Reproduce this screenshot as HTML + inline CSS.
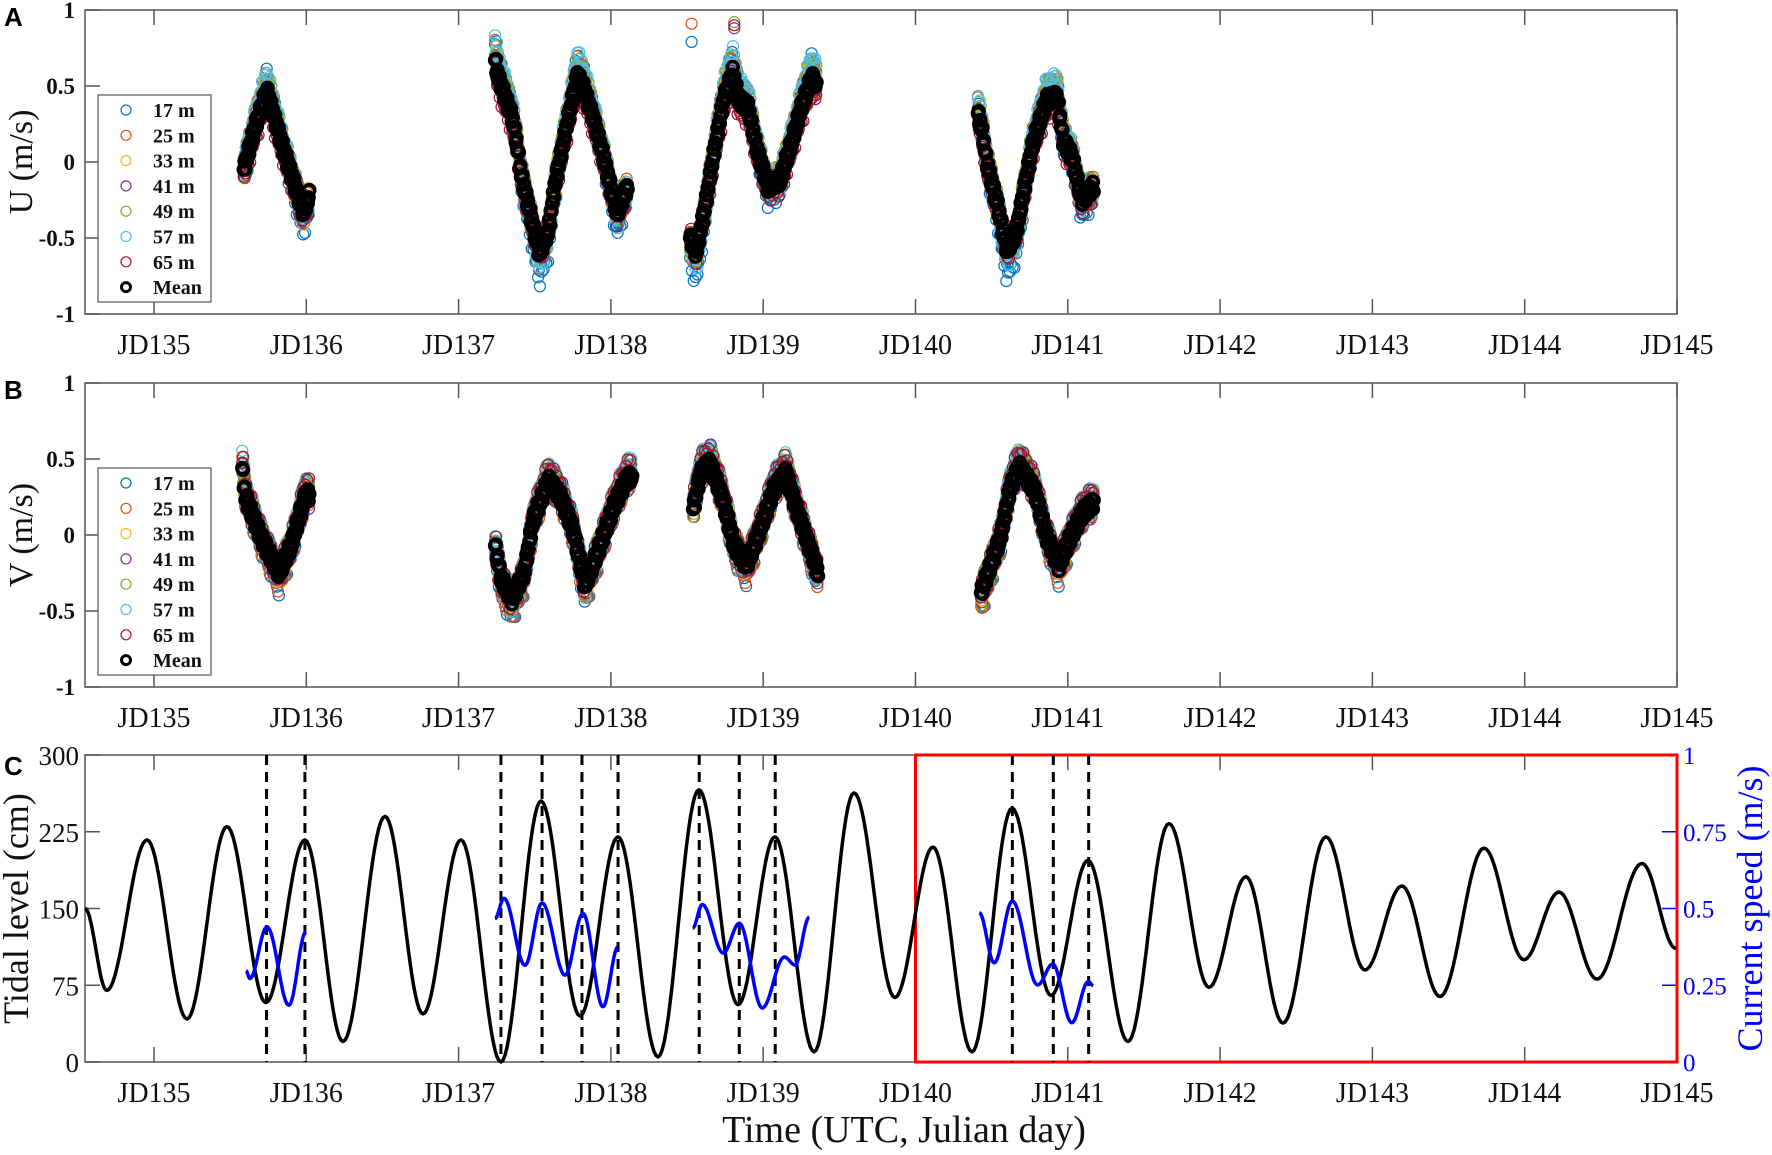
<!DOCTYPE html>
<html><head><meta charset="utf-8"><style>
html,body{margin:0;padding:0;background:#fff}
svg{display:block}
text{font-family:"Liberation Serif",serif}
</style></head><body>
<svg id="fig" width="1772" height="1155" viewBox="0 0 1772 1155" xmlns="http://www.w3.org/2000/svg">
<g id="layer"></g>
</svg>
<script>
// ---- data ----
const xTickDays = [135,136,137,138,139,140,141,142,143,144,145];
const xTickLabels = ["JD135","JD136","JD137","JD138","JD139","JD140","JD141","JD142","JD143","JD144","JD145"];
const uvTicks = [1,0.5,0,-0.5,-1];
const uvTickLabels = ["1","0.5","0","-0.5","-1"];
const tideTicks = [0,75,150,225,300];
const speedTicks = [0,0.25,0.5,0.75,1];
const speedTickLabels = ["0","0.25","0.5","0.75","1"];
const depthNames = ["17 m","25 m","33 m","41 m","49 m","57 m","65 m"];
const depthColors = ["#0072BD","#D95319","#EDB120","#7E2F8E","#77AC30","#4DBEEE","#A2142F"];
const depthGainU = [0.2,0.08,0.04,0.0,0.07,0.14,-0.05];
const depthBiasU = [-0.03,0.02,0.01,0.0,0.03,0.02,-0.03];
const depthGainV = [0.15,0.1,0.04,0.0,0.06,0.1,0.08];
const depthBiasV = [-0.03,-0.03,0.01,0.0,0.02,0.02,0.02];
// fixed scatter spread pattern (m/s) cycled over samples
const spreadPattern = [0.0,0.06,-0.05,0.03,-0.08,0.05,-0.02,0.08,-0.04];
const meanSpread = [0.0,0.035,-0.035,0.02,-0.02];
// mean U keypoints per deployment segment [day, m/s]
const uSeg1 = [[135.59,-0.05],[135.66,0.22],[135.74,0.47],[135.86,0.05],[135.98,-0.33],[136.02,-0.22]];
const uSeg2 = [[137.24,0.67],[137.26,0.56],[137.35,0.30],[137.38,0.14],[137.41,-0.08],[137.47,-0.34],[137.53,-0.6],[137.59,-0.45],[137.63,-0.16],[137.70,0.19],[137.78,0.57],[137.82,0.49],[137.88,0.30],[137.94,0.08],[138.04,-0.34],[138.11,-0.16]];
const uSeg3 = [[138.52,-0.50],[138.56,-0.6],[138.61,-0.34],[138.68,0.08],[138.74,0.41],[138.80,0.59],[138.84,0.41],[138.90,0.36],[138.96,0.08],[139.03,-0.16],[139.11,-0.12],[139.19,0.14],[139.25,0.36],[139.32,0.56],[139.35,0.49]];
const uSeg4 = [[140.41,0.32],[140.44,0.19],[140.47,-0.01],[140.54,-0.29],[140.60,-0.58],[140.66,-0.47],[140.72,-0.14],[140.77,0.12],[140.86,0.41],[140.93,0.43],[140.97,0.14],[141.03,0.03],[141.09,-0.25],[141.17,-0.16]];
const uStrayDays = [138.53,138.53,138.81,138.81,138.81];
const uStrayVals = [0.91,0.79,0.92,0.90,0.88];
const uStrayDepth = [1,0,4,6,3];
// mean V keypoints
const vSeg1 = [[135.58,0.44],[135.60,0.25],[135.70,-0.01],[135.82,-0.25],[135.90,-0.07],[136.0,0.28],[136.02,0.25]];
const vSeg2 = [[137.24,-0.07],[137.28,-0.29],[137.35,-0.42],[137.43,-0.25],[137.49,0.10],[137.59,0.36],[137.67,0.25],[137.75,0.04],[137.83,-0.33],[137.91,-0.12],[138.02,0.19],[138.10,0.36],[138.14,0.39]];
const vSeg3 = [[138.54,0.17],[138.59,0.41],[138.65,0.47],[138.73,0.25],[138.81,-0.07],[138.89,-0.2],[138.97,0.01],[139.07,0.30],[139.15,0.41],[139.20,0.23],[139.28,-0.01],[139.36,-0.25]];
const vSeg4 = [[140.43,-0.38],[140.50,-0.18],[140.56,-0.01],[140.62,0.30],[140.68,0.45],[140.78,0.30],[140.86,-0.01],[140.94,-0.2],[141.02,-0.01],[141.10,0.15],[141.17,0.21]];
// tidal level extremes
const tideDays = [134.547,134.69,134.954,135.217,135.479,135.735,135.991,136.241,136.517,136.766,137.016,137.278,137.541,137.797,138.047,138.309,138.578,138.835,139.077,139.334,139.596,139.865,140.115,140.371,140.634,140.890,141.133,141.395,141.664,141.927,142.170,142.413,142.695,142.951,143.194,143.444,143.733,143.995,144.225,144.475,144.770,144.993];
const tideVals = [150,70,217,42,230,58,217,20,240,47,217,0,255,45,220,5,266,56,220,10,263,63,210,10,248,65,197,20,233,73,181,38,220,90,172,64,209,100,166,81,194,111];
// current speed segments [day, m/s]
const spSeg1 = [[135.604,0.297],[135.630,0.272],[135.742,0.44],[135.886,0.185],[135.998,0.424]];
const spSeg2 = [[137.239,0.467],[137.298,0.533],[137.436,0.315],[137.548,0.518],[137.699,0.283],[137.817,0.484],[137.948,0.18],[138.047,0.375]];
const spSeg3 = [[138.537,0.436],[138.600,0.513],[138.738,0.355],[138.843,0.452],[138.994,0.176],[139.139,0.342],[139.209,0.316],[139.303,0.472]];
const spSeg4 = [[140.419,0.486],[140.517,0.323],[140.636,0.524],[140.802,0.251],[140.901,0.319],[141.026,0.128],[141.135,0.262],[141.167,0.249]];
const dashedDays = [135.739,135.991,137.278,137.548,137.81,138.047,138.58,138.843,139.079,140.636,140.905,141.137];
const boxStartDay = 140;
// ---- layout ----
const L = 85, R = 1677, D0 = 134.547, PXD = 152.3;
const X = d => L + (d - D0) * PXD;
const panels = {A:{top:10,bot:314}, B:{top:383,bot:687}, C:{top:755,bot:1062}};
const Yuv = (p, v) => p.top + (1 - v) / 2 * (p.bot - p.top);
const Ytide = v => panels.C.bot - v / 300 * (panels.C.bot - panels.C.top);
const Yspd = v => panels.C.bot - v * (panels.C.bot - panels.C.top);
const NS = "http://www.w3.org/2000/svg";
const layer = document.getElementById('layer');
function mk(tag, attrs, parent){ const e=document.createElementNS(NS,tag); for(const k in attrs) e.setAttribute(k,attrs[k]); (parent||layer).appendChild(e); return e; }
function txt(s, attrs, parent){ const e=mk('text',attrs,parent); e.textContent=s; return e; }
function interp(seg, t){ for(let i=0;i<seg.length-1;i++){ if(t>=seg[i][0]&&t<=seg[i+1][0]){ const f=(t-seg[i][0])/(seg[i+1][0]-seg[i][0]); return seg[i][1]+(seg[i+1][1]-seg[i][1])*f; } } return seg[seg.length-1][1]; }
function cosPath(days, vals, yf){ let d=''; for(let i=0;i<days.length-1;i++){ const a=vals[i], b=vals[i+1]; const n=20; for(let k=(i?1:0);k<=n;k++){ const f=k/n; const t=days[i]+(days[i+1]-days[i])*f; const v=a+(b-a)*(1-Math.cos(Math.PI*f))/2; d+=(d?'L':'M')+X(t).toFixed(1)+','+yf(v).toFixed(1); } } return d; }

function axisBox(name, p){
  const g = mk('g',{});
  
  
  mk('rect',{x:L,y:p.top,width:R-L,height:p.bot-p.top,fill:'none',stroke:'#555','stroke-width':1.5},g);
  xTickDays.forEach((d,i)=>{
    mk('line',{x1:X(d),x2:X(d),y1:p.bot,y2:p.bot-15,stroke:'#555','stroke-width':1.5},g);
    mk('line',{x1:X(d),x2:X(d),y1:p.top,y2:p.top+15,stroke:'#555','stroke-width':1.5},g);
    const t = txt(xTickLabels[i],{x:X(d),y:p.bot+40,'text-anchor':'middle','font-size':28,fill:'#111'},g);
    
    
  });
  return g;
}
function uvPanel(name, p, segs, gain, bias, label, letter, strays){
  const g = axisBox(name, p);
  uvTicks.forEach((v,i)=>{
    mk('line',{x1:L,x2:L+15,y1:Yuv(p,v),y2:Yuv(p,v),stroke:'#555','stroke-width':1.5},g);
    const t = txt(uvTickLabels[i],{x:L-10,y:Yuv(p,v)+8,'text-anchor':'end','font-size':23,'font-weight':'bold',fill:'#111'},g);
    
    
  });
  const sc = mk('g',{},g);
  
  
  for(let di=0; di<7; di++){
    const sg = mk('g',{fill:'none',stroke:depthColors[di],'stroke-width':1.2},sc);
    
    
    segs.forEach(seg=>{
      let k = di;
      for(let t=seg[0][0]; t<=seg[seg.length-1][0]; t+=0.006){
        const v = interp(seg,t)*(1+gain[di])+bias[di]+spreadPattern[k%spreadPattern.length];
        k++;
        mk('circle',{cx:X(t).toFixed(1),cy:Yuv(p,v).toFixed(1),r:5.5},sg);
      }
    });
  }
  if(strays){ strays.d.forEach((d,i)=>{ mk('circle',{cx:X(d),cy:Yuv(p,strays.v[i]),r:5.5,fill:'none',stroke:depthColors[strays.k[i]],'stroke-width':1.2},sc); }); }
  const mg = mk('g',{fill:'none',stroke:'#000','stroke-width':3.5},sc);
  
  
  segs.forEach(seg=>{
    let k = 0;
    for(let t=seg[0][0]; t<=seg[seg.length-1][0]; t+=0.005){
      const v = interp(seg,t)+meanSpread[k%meanSpread.length];
      k++;
      mk('circle',{cx:X(t).toFixed(1),cy:Yuv(p,v).toFixed(1),r:5.5},mg);
    }
  });
  // legend
  const lg = mk('g',{},g);
  
  
  const ly = p.top+85;
  mk('rect',{x:98,y:ly,width:113,height:207,fill:'#fff',stroke:'#555','stroke-width':1.2},lg);
  depthNames.concat(['Mean']).forEach((n,i)=>{
    const yy = ly+15+i*25.3;
    const e = mk('g',{},lg);
    
    
    if(i<7) mk('circle',{cx:126,cy:yy,r:5,fill:'none',stroke:depthColors[i],'stroke-width':1.2},e);
    else mk('circle',{cx:126,cy:yy,r:4.5,fill:'none',stroke:'#000','stroke-width':3},e);
    txt(n,{x:153,y:yy+7,'font-size':20,'font-weight':'bold',fill:'#111'},e);
  });
  const yl = txt(label,{x:0,y:0,'text-anchor':'middle','font-size':34,fill:'#111',transform:`translate(32,${(p.top+p.bot)/2}) rotate(-90)`},g);
  
  
  const pl = txt(letter,{x:4,y:p.top+16,'font-size':26,'font-weight':'bold',style:'font-family:"Liberation Sans",sans-serif',fill:'#000'},g);
  
  
}
uvPanel('panel-a', panels.A, [uSeg1,uSeg2,uSeg3,uSeg4], depthGainU, depthBiasU, 'U (m/s)', 'A', {d:uStrayDays,v:uStrayVals,k:uStrayDepth});
uvPanel('panel-b', panels.B, [vSeg1,vSeg2,vSeg3,vSeg4], depthGainV, depthBiasV, 'V (m/s)', 'B', null);

// panel C
(function(){
  const p = panels.C;
  const g = axisBox('panel-c', p);
  tideTicks.forEach(v=>{
    mk('line',{x1:L,x2:L+15,y1:Ytide(v),y2:Ytide(v),stroke:'#555','stroke-width':1.5},g);
    const t = txt(String(v),{x:L-6,y:Ytide(v)+10,'text-anchor':'end','font-size':27,fill:'#111'},g);
    
    
  });
  speedTicks.forEach((v,i)=>{
    mk('line',{x1:R-15,x2:R,y1:Yspd(v),y2:Yspd(v),stroke:'#00f','stroke-width':1.5},g);
    const t = txt(speedTickLabels[i],{x:R+6,y:Yspd(v)+9,'font-size':25,fill:'#00f'},g);
    
    
  });
  const box = mk('rect',{x:X(boxStartDay),y:p.top,width:R-X(boxStartDay),height:p.bot-p.top,fill:'none',stroke:'#f00','stroke-width':3},g);
  
  
  dashedDays.forEach(d=>{
    const l = mk('line',{x1:X(d),x2:X(d),y1:p.top,y2:p.bot,stroke:'#000','stroke-width':3,'stroke-dasharray':'10,7'},g);
    
    
  });
  const tl = mk('path',{d:cosPath(tideDays,tideVals,Ytide),fill:'none',stroke:'#000','stroke-width':3.5,'stroke-linejoin':'round'},g);
  
  
  [spSeg1,spSeg2,spSeg3,spSeg4].forEach(seg=>{
    const sp = mk('path',{d:cosPath(seg.map(s=>s[0]),seg.map(s=>s[1]),Yspd),fill:'none',stroke:'#00f','stroke-width':3.5,'stroke-linejoin':'round'},g);
    
    
  });
  const yl = txt('Tidal level  (cm)',{x:0,y:0,'text-anchor':'middle','font-size':36,fill:'#111','xml:space':'preserve',transform:`translate(28,${(p.top+p.bot)/2}) rotate(-90)`},g);
  
  
  const yr = txt('Current speed (m/s)',{x:0,y:0,'text-anchor':'middle','font-size':36,fill:'#00f',transform:`translate(1762,${(p.top+p.bot)/2}) rotate(-90)`},g);
  
  
  const xt = txt('Time (UTC, Julian day)',{x:904,y:1142,'text-anchor':'middle','font-size':38,fill:'#111'},g);
  
  
  const pl = txt('C',{x:4,y:p.top+20,'font-size':26,'font-weight':'bold',style:'font-family:"Liberation Sans",sans-serif',fill:'#000'},g);
  
  
})();
</script>
</body></html>
